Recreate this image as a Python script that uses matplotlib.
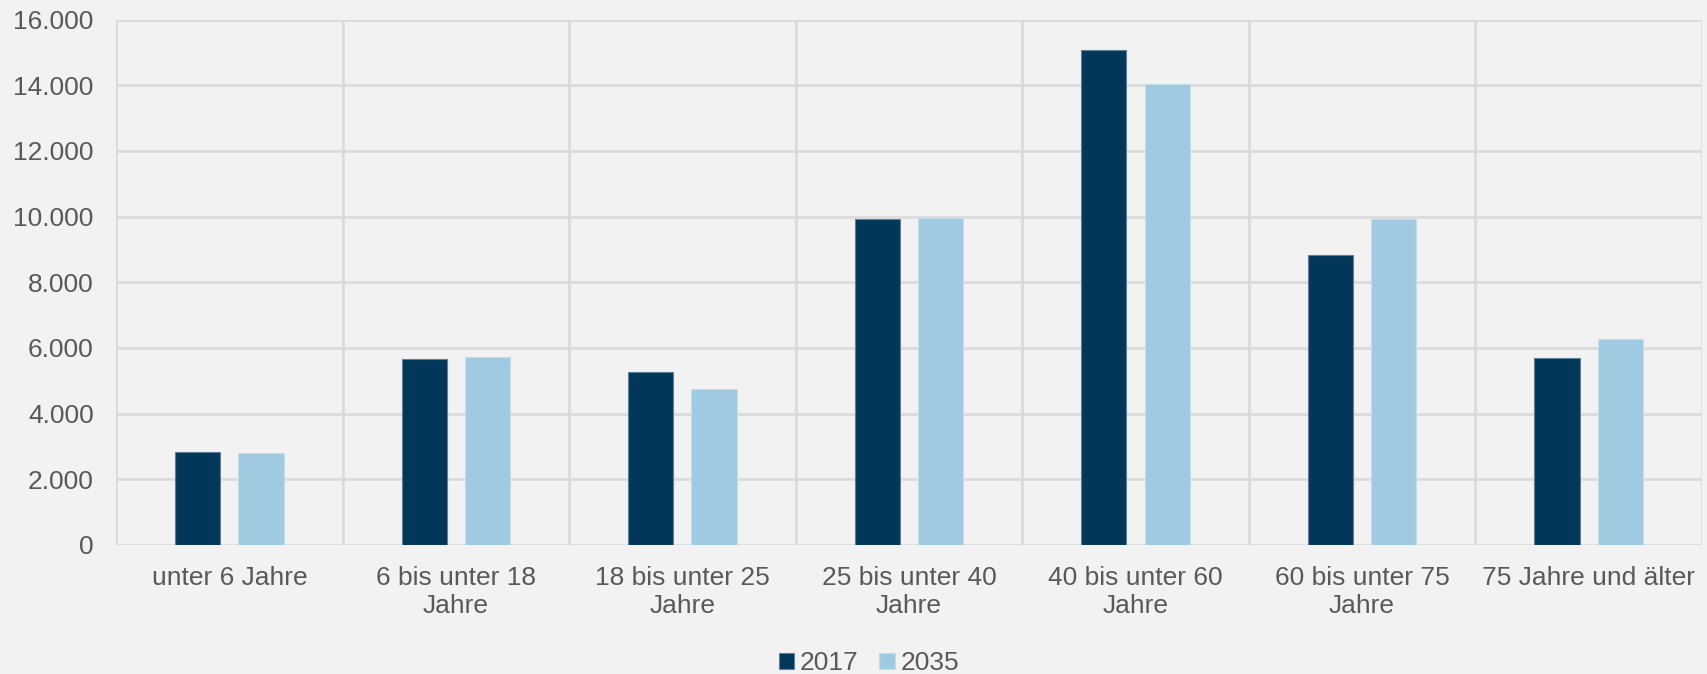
import numpy as np
import matplotlib.pyplot as plt
from matplotlib.ticker import FuncFormatter

# Einwohner nach Altersgruppen, 2017 und Prognose 2035
categories = ['unter 6 Jahre', '6 bis unter 18\nJahre', '18 bis unter 25\nJahre',
              '25 bis unter 40\nJahre', '40 bis unter 60\nJahre', '60 bis unter 75\nJahre',
              '75 Jahre und älter']
values_2017 = [2840, 5650, 5280, 9920, 15060, 8830, 5680]
values_2035 = [2800, 5720, 4740, 9960, 14050, 9930, 6260]
years = ['2017', '2035']

c_dark = '#02375A'
c_light = '#9FCAE1'
bg = '#F2F2F2'
grid_c = '#D9D9D9'
text_c = '#595959'
fs = 19

plt.rcParams['font.family'] = ['Liberation Sans', 'DejaVu Sans']

fig = plt.figure(figsize=(17.07, 6.74), dpi=100, facecolor=bg)
ax = fig.add_axes([0.068, 0.1914, 0.929, 0.7796])
ax.set_facecolor(bg)

x = np.arange(len(categories))
w = 0.2
off = 0.14
ax.bar(x - off, values_2017, w, color=c_dark, edgecolor='#5F7F98', linewidth=0.8,
       label=years[0], zorder=3)
ax.bar(x + off, values_2035, w, color=c_light, edgecolor='#C4DDEB', linewidth=0.8,
       label=years[1], zorder=3)

ax.set_xlim(-0.5, len(categories) - 0.5)
ax.set_ylim(0, 16000)
ax.set_yticks(np.arange(0, 16001, 2000))
ax.yaxis.set_major_formatter(FuncFormatter(lambda v, p: f'{int(v):,}'.replace(',', '.')))

# horizontal grid plus separators between the age groups
ax.grid(axis='y', color=grid_c, linewidth=1.8, zorder=0)
for b in np.arange(-0.5, len(categories), 1.0):
    ax.axvline(b, color=grid_c, linewidth=1.8, zorder=0)

for s in ax.spines.values():
    s.set_visible(False)

ax.set_xticks(x)
ax.set_xticklabels(categories, linespacing=1.22)
ax.tick_params(axis='both', length=0, labelsize=fs, labelcolor=text_c)
ax.tick_params(axis='y', pad=16)
ax.tick_params(axis='x', pad=15)

fig.legend(loc='lower center', bbox_to_anchor=(0.509, -0.037), ncol=2, frameon=False,
           fontsize=fs, labelcolor=text_c, handlelength=0.6, handleheight=0.6,
           handletextpad=0.2, columnspacing=0.8)

fig.savefig('out.png', dpi=100, facecolor=bg)
